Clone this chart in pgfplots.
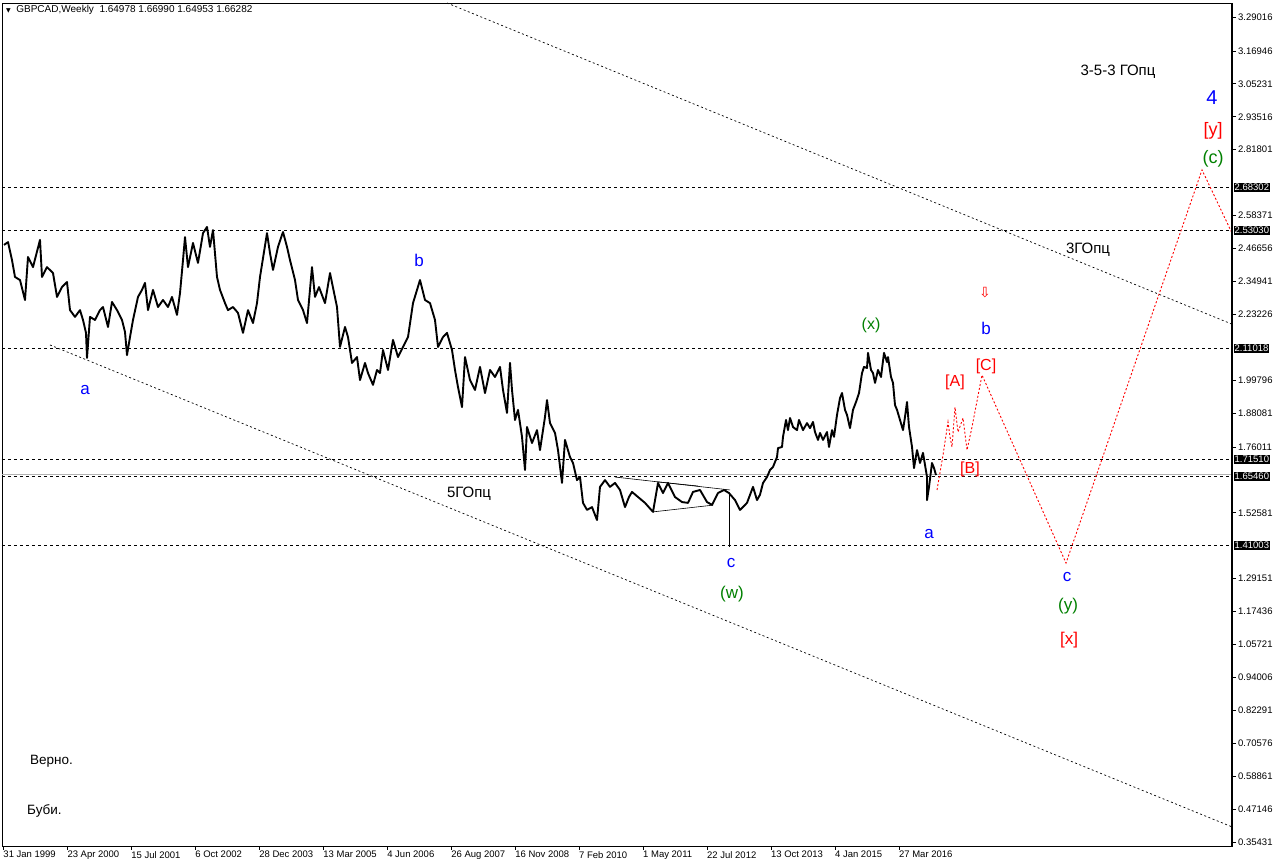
\documentclass[border=0pt]{standalone}
\usepackage{pgfplots}
\pgfplotsset{compat=1.18}
\usepackage{fontspec}
\setmainfont{Liberation Sans}
\newfontfamily\dejavu{DejaVu Sans}
\definecolor{mtblue}{RGB}{0,0,255}
\definecolor{mtred}{RGB}{255,0,0}
\definecolor{mtgreen}{RGB}{0,128,0}
\newcommand{\tickfont}{\fontsize{9.5}{10}\selectfont}
\newcommand{\wave}{\fontsize{17}{18}\selectfont}
\newcommand{\sub}{\fontsize{16}{17}\selectfont}
\begin{document}
\begin{tikzpicture}
\begin{axis}[
  scale only axis, width=1230pt, height=843pt,
  xmin=2, xmax=1232, ymin=0.34, ymax=3.34,
  clip=false,
  axis line style={black, line width=0.8pt},
  tick align=outside, major tick length=4pt,
  tick style={black, line width=0.8pt},
  xtick pos=left, ytick pos=right, yticklabel pos=right,
  xtick={3.3,67.3,131.2,195.2,259.2,323.2,387.1,451.1,515.1,579.0,643.0,707.0,770.9,834.9,898.9},
  xticklabels={31 Jan 1999,23 Apr 2000,15 Jul 2001,6 Oct 2002,28 Dec 2003,13 Mar 2005,4 Jun 2006,26 Aug 2007,16 Nov 2008,7 Feb 2010,1 May 2011,22 Jul 2012,13 Oct 2013,4 Jan 2015,27 Mar 2016},
  xticklabel style={anchor=north west, font=\tickfont, inner sep=1pt, xshift=-1pt},
  ytick={3.29016,3.16946,3.05231,2.93516,2.81801,2.58371,2.46656,2.34941,2.23226,1.99796,1.88081,1.76011,1.52581,1.29151,1.17436,1.05721,0.94006,0.82291,0.70576,0.58861,0.47146,0.35431},
  yticklabels={3.29016,3.16946,3.05231,2.93516,2.81801,2.58371,2.46656,2.34941,2.23226,1.99796,1.88081,1.76011,1.52581,1.29151,1.17436,1.05721,0.94006,0.82291,0.70576,0.58861,0.47146,0.35431},
  yticklabel style={anchor=west, font=\tickfont, inner sep=1pt, xshift=1pt},
  /pgf/number format/assume math mode=true,
]
% horizontal levels
\addplot[black, line width=0.8pt, dash pattern=on 3pt off 3pt] coordinates {(2,2.68302) (1232,2.68302)};
\addplot[black, line width=0.8pt, dash pattern=on 3pt off 3pt] coordinates {(2,2.53030) (1232,2.53030)};
\addplot[black, line width=0.8pt, dash pattern=on 3pt off 3pt] coordinates {(2,2.11018) (1232,2.11018)};
\addplot[black, line width=0.8pt, dash pattern=on 3pt off 3pt] coordinates {(2,1.71510) (1232,1.71510)};
\addplot[gray!60, line width=0.8pt] coordinates {(2,1.66282) (1232,1.66282)};
\addplot[black, line width=0.8pt, dash pattern=on 3pt off 3pt] coordinates {(2,1.65460) (1232,1.65460)};
\addplot[black, line width=0.8pt, dash pattern=on 3pt off 3pt] coordinates {(2,1.41003) (1232,1.41003)};
% channel lines
\addplot[black, line width=0.7pt, dash pattern=on 2pt off 2.5pt] coordinates {(447,3.340) (1232,2.197)};
\addplot[black, line width=0.7pt, dash pattern=on 2pt off 2.5pt] coordinates {(50,2.123) (1232,0.408)};
% triangle lines
\addplot[black, line width=0.6pt] coordinates {(615,1.653) (730,1.607)};
\addplot[black, line width=0.6pt] coordinates {(653,1.529) (713,1.553)};
\addplot[black, line width=0.6pt] coordinates {(657,1.636) (698,1.621)};
% price series
\addplot[black, line width=1.9pt, line join=round] coordinates {
(4,2.479) (8,2.489) (12,2.425) (15,2.365) (20,2.354) (25,2.283) (28,2.436) (33,2.400) (40,2.497) (42,2.365)
(47,2.400) (53,2.379) (57,2.294) (62,2.329) (67,2.347) (70,2.247) (75,2.223) (80,2.247) (83,2.212) (86,2.166)
(87,2.077) (90,2.223) (95,2.212) (100,2.247) (103,2.258) (108,2.187) (112,2.276) (117,2.247) (122,2.212) (125,2.169)
(127,2.087) (130,2.151) (133,2.212) (138,2.294) (142,2.319) (145,2.344) (148,2.247) (153,2.319) (158,2.258) (163,2.283)
(168,2.258) (172,2.294) (177,2.230) (180,2.308) (183,2.425) (185,2.507) (188,2.400) (193,2.486) (198,2.415) (203,2.521)
(207,2.543) (210,2.472) (213,2.532) (217,2.365) (220,2.319) (225,2.272) (228,2.247) (233,2.258) (238,2.237) (243,2.166)
(248,2.247) (253,2.201) (257,2.272) (260,2.365) (267,2.521) (270,2.450) (273,2.390) (278,2.472) (283,2.525) (287,2.472)
(290,2.425) (295,2.354) (298,2.283) (303,2.247) (307,2.201) (312,2.400) (315,2.294) (319,2.329) (325,2.272) (330,2.379)
(337,2.258) (340,2.116) (345,2.187) (348,2.151) (352,2.059) (357,2.080) (360,1.998) (365,2.059) (368,2.023) (373,1.981)
(377,2.034) (380,2.023) (383,2.105) (388,2.034) (393,2.141) (398,2.080) (403,2.116) (408,2.151) (413,2.272) (420,2.354)
(425,2.283) (430,2.272) (435,2.212) (438,2.116) (443,2.151) (447,2.166) (452,2.105) (455,2.034) (458,1.973) (462,1.902)
(465,2.080) (470,1.998) (475,1.963) (480,2.045) (485,1.952) (490,2.034) (495,2.009) (500,2.045) (503,1.963) (507,1.881)
(510,2.059) (512,1.963) (515,1.856) (518,1.892) (522,1.796) (525,1.678) (527,1.831) (532,1.774) (537,1.820) (540,1.749)
(545,1.867) (547,1.927) (550,1.845) (555,1.810) (558,1.749) (562,1.632) (565,1.785) (570,1.724) (573,1.703) (577,1.642)
(580,1.653) (583,1.561) (587,1.536) (592,1.546) (597,1.500) (600,1.618) (605,1.642) (610,1.618) (615,1.632) (620,1.607)
(625,1.546) (629,1.582) (632,1.600) (638,1.582) (645,1.561) (653,1.529) (658,1.632) (663,1.596) (668,1.632) (675,1.582)
(682,1.564) (688,1.561) (693,1.600) (700,1.607) (707,1.564) (712,1.554) (718,1.596) (724,1.607) (729,1.596) (735,1.571)
(740,1.536) (747,1.561) (753,1.618) (757,1.571)
(760,1.590) (763,1.632) (767,1.653) (770,1.678) (773,1.689) (777,1.724) (778,1.756) (782,1.760) (783,1.796) (786,1.856)
(788,1.820) (790,1.863) (793,1.831) (797,1.820) (799,1.856) (803,1.820) (807,1.845) (810,1.827) (813,1.849) (815,1.813)
(818,1.785) (820,1.810) (823,1.785) (827,1.813) (829,1.760) (832,1.820) (834,1.796) (837,1.874) (840,1.934) (842,1.952)
(845,1.892) (847,1.874) (850,1.827) (853,1.892) (856,1.920) (859,1.952) (862,2.023) (864,2.045) (867,2.041) (868,2.095)
(871,2.034) (873,2.023) (875,1.988) (878,2.034) (881,2.009) (884,2.095) (887,2.062) (888,2.080) (891,2.009) (893,1.988)
(895,1.909) (897,1.892) (900,1.856) (903,1.820) (905,1.867) (907,1.920) (909,1.831) (912,1.760) (914,1.685) (917,1.749)
(920,1.703) (923,1.739) (927,1.653) (927,1.571) (929,1.618) (932,1.703) (934,1.685) (936,1.660)
};
\addplot[black, line width=1pt] coordinates {(729,1.596) (729,1.404)};
% forecast path
\addplot[mtred, line width=0.9pt, dash pattern=on 2pt off 2pt] coordinates {
(937,1.607) (943,1.731) (948,1.849) (950,1.796) (952,1.760) (955,1.902) (958,1.813) (963,1.863) (967,1.749) (972,1.831)
(982,2.016) (1066,1.347) (1202,2.746) (1232,2.521)};
% right axis thick line
\draw[black, line width=2.6pt] (rel axis cs:1,0) -- (rel axis cs:1,1);
% boxed level labels
\node[anchor=west, fill=black, text=white, font=\tickfont, inner sep=1pt, xshift=1.5pt] at (axis cs:1232,2.68302) {2.68302};
\node[anchor=west, fill=black, text=white, font=\tickfont, inner sep=1pt, xshift=1.5pt] at (axis cs:1232,2.53030) {2.53030};
\node[anchor=west, fill=black, text=white, font=\tickfont, inner sep=1pt, xshift=1.5pt] at (axis cs:1232,2.11018) {2.11018};
\node[anchor=west, fill=black, text=white, font=\tickfont, inner sep=1pt, xshift=1.5pt] at (axis cs:1232,1.71510) {1.71510};
\node[anchor=west, fill=black, text=white, font=\tickfont, inner sep=1pt, xshift=1.5pt] at (axis cs:1232,1.65460) {1.65460};
\node[anchor=west, fill=black, text=white, font=\tickfont, inner sep=1pt, xshift=1.5pt] at (axis cs:1232,1.41003) {1.41003};
% header
\node[anchor=west, font=\fontsize{10}{11}\selectfont, inner sep=0pt] at (axis cs:6,3.315) {{\dejavu\fontsize{6}{6}\selectfont ▼}\ \ GBPCAD,Weekly\ \ 1.64978 1.66990 1.64953 1.66282};
% texts
\node[font=\fontsize{15}{16}\selectfont] at (axis cs:1118,3.094) {3-5-3 ГОпц};
\node[font=\fontsize{20}{21}\selectfont, text=mtblue] at (axis cs:1212,3.002) {4};
\node[font=\fontsize{18}{19}\selectfont, text=mtred] at (axis cs:1213,2.884) {[y]};
\node[font=\fontsize{18}{19}\selectfont, text=mtgreen] at (axis cs:1213,2.785) {(c)};
\node[font=\fontsize{15}{16}\selectfont] at (axis cs:1088,2.461) {3ГОпц};
\node[font=\wave, text=mtblue] at (axis cs:419,2.425) {b};
\node[font=\wave, text=mtblue] at (axis cs:85,1.963) {a};
\node[font=\sub, text=mtgreen] at (axis cs:871,2.191) {(x)};
\node[font=\wave, text=mtblue] at (axis cs:986,2.183) {b};
\node[font={\dejavu\fontsize{14}{14}\selectfont}, text=mtred] at (axis cs:985,2.308) {⇩};
\node[font=\sub, text=mtred] at (axis cs:955,1.991) {[A]};
\node[font=\sub, text=mtred] at (axis cs:986,2.048) {[C]};
\node[font=\sub, text=mtred] at (axis cs:970,1.682) {[B]};
\node[font=\fontsize{15}{16}\selectfont] at (axis cs:469,1.593) {5ГОпц};
\node[font=\wave, text=mtblue] at (axis cs:731,1.347) {c};
\node[font=\wave, text=mtgreen] at (axis cs:732,1.237) {(w)};
\node[font=\wave, text=mtblue] at (axis cs:929,1.450) {a};
\node[font=\wave, text=mtblue] at (axis cs:1067,1.297) {c};
\node[font=\wave, text=mtgreen] at (axis cs:1068,1.194) {(y)};
\node[font=\wave, text=mtred] at (axis cs:1069,1.073) {[x]};
\node[anchor=west, font=\fontsize{13.5}{14}\selectfont, inner sep=0pt] at (axis cs:30,0.642) {Верно.};
\node[anchor=west, font=\fontsize{13.5}{14}\selectfont, inner sep=0pt] at (axis cs:27,0.465) {Буби.};
\end{axis}
\path ([shift={(-2pt,-20pt)}]current axis.south west) rectangle ([shift={(44pt,3pt)}]current axis.north east);
\end{tikzpicture}
\end{document}
